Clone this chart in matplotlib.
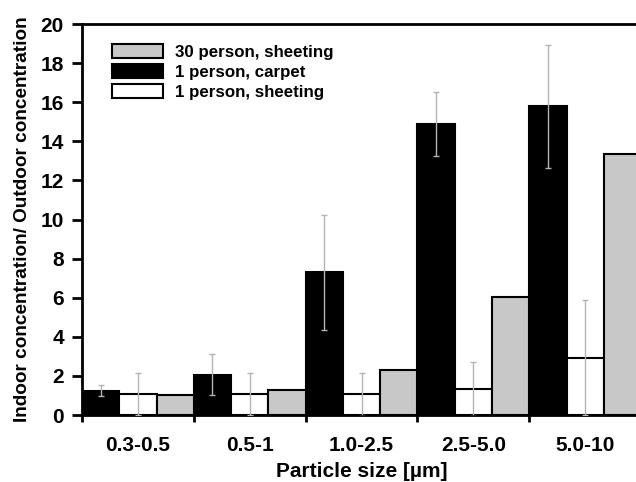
import matplotlib
matplotlib.use("Agg")
import matplotlib.pyplot as plt
import numpy as np

plt.rcParams['font.family'] = ['Liberation Sans', 'DejaVu Sans']
plt.rcParams['font.weight'] = 'bold'

categories = ["0.3-0.5", "0.5-1", "1.0-2.5", "2.5-5.0", "5.0-10"]
carpet_1p = [1.25, 2.05, 7.3, 14.88, 15.8]
carpet_1p_err = [0.27, 1.05, 2.95, 1.65, 3.15]
sheeting_1p = [1.07, 1.06, 1.06, 1.33, 2.93]
sheeting_1p_err = [1.06, 1.07, 1.1, 1.37, 2.94]
sheeting_30p = [1.0, 1.3, 2.3, 6.05, 13.33]

fig = plt.figure(figsize=(6.36, 4.82), dpi=100)
ax = fig.add_axes([0.129, 0.139, 0.879, 0.811])

x = np.arange(len(categories))
w = 1/3
ekw = dict(ecolor='#b4b4b4', elinewidth=1.0, capsize=2.5, capthick=1.0)
ax.bar(x - w, carpet_1p, w, color='black', edgecolor='black', linewidth=1.5,
       label='1 person, carpet', zorder=2)
ax.bar(x, sheeting_1p, w, color='white', edgecolor='black', linewidth=1.5,
       label='1 person, sheeting', zorder=2)
ax.bar(x + w, sheeting_30p, w, color='#c8c8c8', edgecolor='black', linewidth=1.5,
       label='30 person, sheeting', zorder=2)
ax.errorbar(x - w, carpet_1p, yerr=carpet_1p_err, fmt='none', zorder=3, **ekw)
ax.errorbar(x, sheeting_1p, yerr=sheeting_1p_err, fmt='none', zorder=3, **ekw)

ax.set_xlim(-0.5, len(categories) - 0.5)
ax.set_ylim(0, 20)
ax.set_yticks(np.arange(0, 21, 2))
ax.set_xticks(np.arange(len(categories) + 1) - 0.5)
ax.set_xticklabels([])
ax.set_xticks(x, minor=True)
ax.set_xticklabels(categories, minor=True)
ax.tick_params(axis='x', which='minor', length=0, pad=15, labelsize=15)
ax.tick_params(axis='x', which='major', length=5, width=2, direction='out')
ax.tick_params(axis='y', length=7, width=2, direction='out', labelsize=15, pad=6)
for lab in ax.get_xticklabels(minor=True) + ax.get_yticklabels():
    lab.set_fontweight('bold')

for s in ['left', 'bottom', 'top']:
    ax.spines[s].set_linewidth(2)
ax.spines['right'].set_visible(False)

ax.set_xlabel('Particle size [µm]', fontsize=15, fontweight='bold', labelpad=5)
ax.set_ylabel('Indoor concentration/ Outdoor concentration', fontsize=13.7,
              fontweight='bold', labelpad=7)

h, l = ax.get_legend_handles_labels()
order = [2, 0, 1]
leg = ax.legend([h[i] for i in order], [l[i] for i in order], loc='upper left',
                bbox_to_anchor=(0.035, 0.975), frameon=False, fontsize=12.2,
                handlelength=3.0, handleheight=0.9, handletextpad=0.75,
                labelspacing=0.25, borderaxespad=0.2)
for t in leg.get_texts():
    t.set_fontweight('bold')

fig.savefig('out.png', dpi=100)
